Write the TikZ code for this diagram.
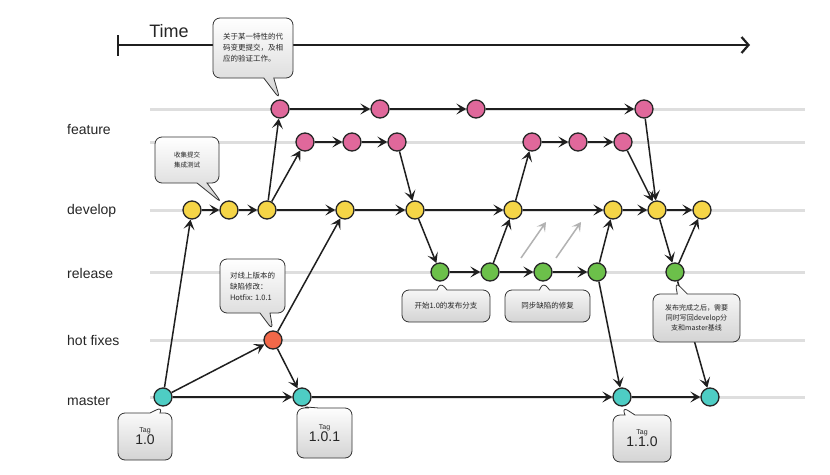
\documentclass[tikz,border=0pt]{standalone}
\usepackage{fontspec}
\setmainfont{Liberation Sans}
\newfontfamily\cjk{Noto Sans CJK SC}
\usetikzlibrary{arrows.meta,shapes.callouts}
\definecolor{cpink}{HTML}{E0689B}
\definecolor{cyellow}{HTML}{F5D547}
\definecolor{cgreen}{HTML}{6CC04A}
\definecolor{cred}{HTML}{F26849}
\definecolor{cteal}{HTML}{4ECDC4}
\definecolor{rowgray}{HTML}{DEDEDE}
\begin{document}
\begin{tikzpicture}[x=1pt,y=-1pt,
  rowline/.style={draw=rowgray,line width=3pt},
  lab/.style={anchor=west,font=\fontsize{14}{16}\selectfont,text=black!85,inner sep=0pt},
  commit/.style={circle,draw=black!85,line width=1.3pt,minimum size=18pt,inner sep=0pt},
  arr/.style={draw=black!88,line width=1.5pt,-{Stealth[length=10pt,width=11pt,inset=4.5pt]}},
  garr/.style={draw=black!30,line width=1.5pt,-{Stealth[length=9pt,width=10pt,inset=4pt]}},
  callbox/.style={rectangle callout,draw=black!80,line width=0.8pt,rounded corners=7pt,
    top color=white,bottom color=black!17,callout pointer width=10pt,inner sep=3pt,
    font=\cjk\fontsize{7.5}{11}\selectfont,text=black!85},
  tagbox/.style={callbox,align=center,font=\fontsize{14}{11}\selectfont}
]
\useasboundingbox[fill=white] (0,0) rectangle (830,474);

% row guide lines
\foreach \y in {109,142,210,272,340,397}{
  \draw[rowline] (150,\y) -- (805,\y);
}

% time axis
\coordinate (ta) at (118,45);
\coordinate (tb) at (750,45);
\coordinate (tbar1) at (118,35);
\coordinate (tbar2) at (118,56);
\draw[black!88,line width=2.2pt,-{Straight Barb[length=7pt,width=16pt]}] (ta) -- (tb);
\draw[black!88,line width=2.5pt] (tbar1) -- (tbar2);
\node[font=\fontsize{18}{20}\selectfont,text=black!85] (time) at (169,31) {Time};

% row labels
\node[lab] (lfeature) at (67,130) {feature};
\node[lab] (ldevelop) at (67,211) {develop};
\node[lab] (lrelease) at (67,273) {release};
\node[lab] (lhot) at (67,340) {hot fixes};
\node[lab] (lmaster) at (67,401) {master};

% commits
\node[commit,fill=cpink] (F1) at (280,109) {};
\node[commit,fill=cpink] (F2) at (380,109) {};
\node[commit,fill=cpink] (F3) at (476,109) {};
\node[commit,fill=cpink] (F4) at (644,109) {};
\node[commit,fill=cpink] (G1) at (305,142) {};
\node[commit,fill=cpink] (G2) at (352,142) {};
\node[commit,fill=cpink] (G3) at (397,142) {};
\node[commit,fill=cpink] (G4) at (532,142) {};
\node[commit,fill=cpink] (G5) at (578,142) {};
\node[commit,fill=cpink] (G6) at (623,142) {};
\node[commit,fill=cyellow] (D1) at (192,210) {};
\node[commit,fill=cyellow] (D2) at (229,210) {};
\node[commit,fill=cyellow] (D3) at (267,210) {};
\node[commit,fill=cyellow] (D4) at (345,210) {};
\node[commit,fill=cyellow] (D5) at (415,210) {};
\node[commit,fill=cyellow] (D6) at (513,210) {};
\node[commit,fill=cyellow] (D7) at (613,210) {};
\node[commit,fill=cyellow] (D8) at (657,210) {};
\node[commit,fill=cyellow] (D9) at (702,210) {};
\node[commit,fill=cgreen] (R1) at (440,272) {};
\node[commit,fill=cgreen] (R2) at (490,272) {};
\node[commit,fill=cgreen] (R3) at (543,272) {};
\node[commit,fill=cgreen] (R4) at (597,272) {};
\node[commit,fill=cgreen] (R5) at (675,272) {};
\node[commit,fill=cred] (H1) at (273,340) {};
\node[commit,fill=cteal] (M1) at (163,397) {};
\node[commit,fill=cteal] (M2) at (302,397) {};
\node[commit,fill=cteal] (M3) at (622,397) {};
\node[commit,fill=cteal] (M4) at (710,397) {};

% connectors
\foreach \a/\b in {M1/D1,M1/H1,M1/M2,H1/M2,H1/D4,D1/D2,D2/D3,D3/F1,D3/G1,D3/D4,D4/D5,
  F1/F2,F2/F3,F3/F4,G1/G2,G2/G3,G3/D5,D5/R1,D5/D6,R1/R2,R2/R3,R3/R4,R2/D6,D6/G4,G4/G5,G5/G6,
  D6/D7,R4/D7,R4/M3,D7/D8,G6/D8,F4/D8,D8/R5,D8/D9,R5/D9,R5/M4,M2/M3,M3/M4}{
  \draw[arr] (\a) -- (\b);
}

% gray sync arrows
\coordinate (s1a) at (521,258);
\coordinate (s1b) at (546,222);
\coordinate (s2a) at (556,258);
\coordinate (s2b) at (581,222);
\draw[garr] (s1a) -- (s1b);
\draw[garr] (s2a) -- (s2b);

% callouts
\node[callbox,align=left,minimum width=80pt,minimum height=60pt,
  callout absolute pointer={(F1.north)}] (c1) at (253,48)
  {关于某一特性的代\\码变更提交，及相\\应的验证工作。};
\node[callbox,align=center,minimum width=64pt,minimum height=46pt,
  font=\cjk\fontsize{6.5}{10}\selectfont,
  callout absolute pointer={(D2.north west)}] (c2) at (187,160)
  {收集提交\\集成测试};
\node[callbox,align=left,minimum width=65pt,minimum height=54pt,
  callout absolute pointer={(H1.north)}] (c3) at (252.5,286)
  {对线上版本的\\缺陷修改：\\Hotfix: 1.0.1};
\node[callbox,align=center,minimum width=88pt,minimum height=32pt,
  callout absolute pointer={(R1.south)}] (c4) at (446,306)
  {开始1.0的发布分支};
\node[callbox,align=center,minimum width=85pt,minimum height=32pt,
  callout absolute pointer={(R3.south)}] (c5) at (547.5,306)
  {同步缺陷的修复};
\node[callbox,align=center,minimum width=87pt,minimum height=48pt,
  font=\cjk\fontsize{7}{10}\selectfont,
  callout absolute pointer={(R5.south)}] (c6) at (696.5,318)
  {发布完成之后，需要\\同时写回develop分\\支和master基线};
\node[tagbox,minimum width=54pt,minimum height=47pt,
  callout absolute pointer={(M1.south)}] (t1) at (145,436.5)
  {{\fontsize{7}{9}\selectfont Tag}\\1.0};
\node[tagbox,minimum width=55pt,minimum height=50pt,
  callout absolute pointer={(M2.south)}] (t2) at (324.5,433)
  {{\fontsize{7}{9}\selectfont Tag}\\1.0.1};
\node[tagbox,minimum width=58pt,minimum height=47pt,
  callout absolute pointer={(M3.south)}] (t3) at (642,438.5)
  {{\fontsize{7}{9}\selectfont Tag}\\1.1.0};
\end{tikzpicture}
\end{document}
